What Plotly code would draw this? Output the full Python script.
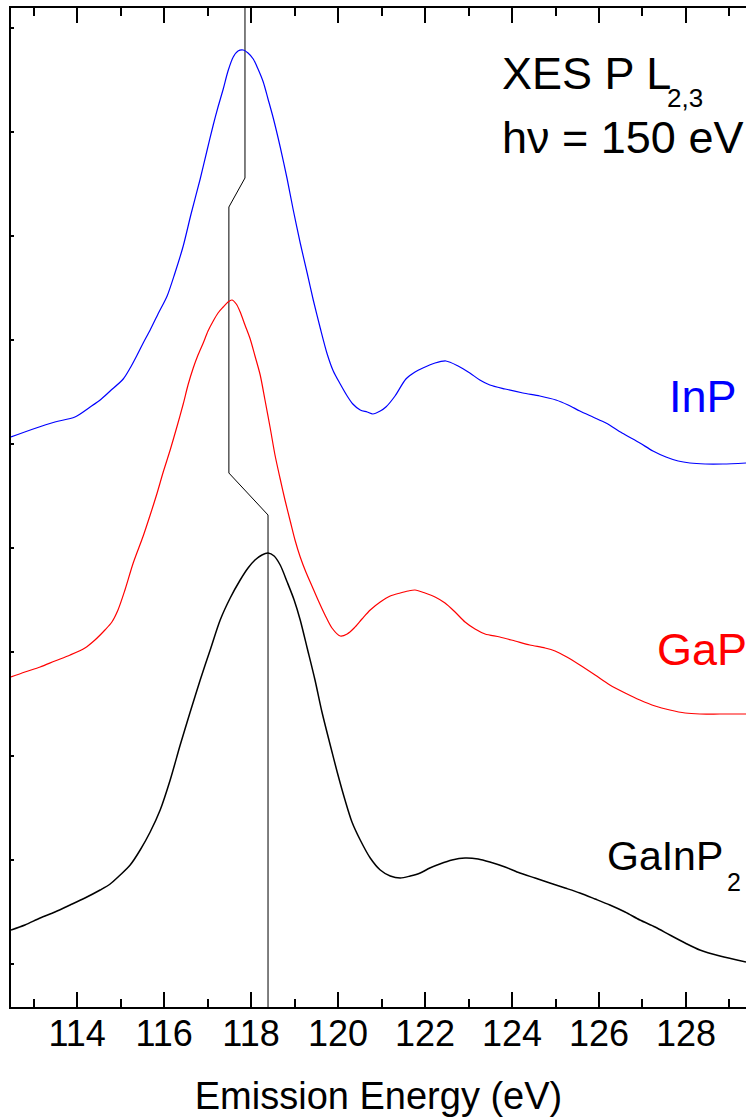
import plotly.graph_objects as go

# P L2,3 X-ray emission spectra (hv = 150 eV), vertically offset for clarity.
# Intensities are in arbitrary units including the offset of each spectrum.
inp_energy = [112.48, 112.99, 113.49, 113.95, 114.30, 114.53, 114.76, 115.06, 115.22, 115.38,
              115.52, 115.68, 115.86, 116.07, 116.25, 116.44, 116.62, 116.83, 116.99, 117.13,
              117.24, 117.36, 117.47, 117.59, 117.70, 117.82, 117.93, 118.05, 118.16, 118.28,
              118.39, 118.51, 118.67, 118.83, 118.97, 119.13, 119.29, 119.43, 119.59, 119.75,
              119.89, 120.05, 120.21, 120.34, 120.51, 120.67, 120.80, 120.97, 121.10, 121.31,
              121.56, 121.77, 121.95, 122.23, 122.48, 122.76, 123.03, 123.26, 123.49, 123.84,
              124.25, 124.64, 125.01, 125.29, 125.56, 125.86, 126.16, 126.53, 126.94, 127.24,
              127.54, 127.82, 128.09, 128.44, 128.85, 129.38]
inp_intensity = [527, 535, 542, 547, 557, 564, 573, 585, 596, 609,
                 621, 634, 650, 668, 691, 718, 750, 785, 814, 839,
                 857, 875, 893, 907, 913, 914, 911, 905, 895, 882,
                 865, 846, 817, 785, 754, 721, 691, 664, 636, 610,
                 593, 580, 568, 560, 554, 552, 550, 553, 557, 568,
                 585, 592, 596, 601, 603, 598, 591, 584, 579, 575,
                 571, 568, 564, 559, 553, 547, 541, 531, 521, 513,
                 507, 503, 501, 500, 500, 501]

gap_energy = [112.48, 112.80, 113.15, 113.49, 113.84, 114.18, 114.41, 114.64, 114.80, 114.94,
              115.10, 115.29, 115.52, 115.68, 115.84, 115.98, 116.14, 116.30, 116.44, 116.55,
              116.67, 116.78, 116.90, 117.01, 117.13, 117.24, 117.36, 117.47, 117.56, 117.66,
              117.75, 117.86, 117.98, 118.09, 118.21, 118.32, 118.44, 118.55, 118.67, 118.78,
              118.90, 119.01, 119.13, 119.26, 119.40, 119.54, 119.70, 119.86, 120.05, 120.21,
              120.37, 120.55, 120.74, 120.97, 121.20, 121.43, 121.61, 121.77, 122.00, 122.23,
              122.46, 122.69, 122.92, 123.15, 123.38, 123.72, 124.07, 124.41, 124.76, 124.99,
              125.26, 125.56, 125.91, 126.25, 126.60, 126.94, 127.29, 127.63, 127.98, 128.32,
              128.78, 129.38]
gap_intensity = [287, 292, 297, 303, 309, 316, 324, 334, 342, 354,
                 374, 401, 428, 449, 471, 492, 514, 538, 560, 579,
                 596, 609, 621, 633, 643, 651, 657, 662, 664, 660,
                 652, 639, 625, 608, 589, 564, 536, 509, 485, 464,
                 443, 424, 407, 392, 378, 364, 349, 336, 328, 330,
                 336, 345, 354, 362, 368, 371, 373, 374, 371, 367,
                 361, 352, 342, 335, 330, 327, 323, 319, 316, 313,
                 307, 299, 289, 279, 271, 264, 258, 254, 251, 250,
                 250, 250]

gainp2_energy = [112.48, 112.80, 113.15, 113.49, 113.84, 114.18, 114.53, 114.76, 114.99, 115.22,
                 115.45, 115.68, 115.91, 116.14, 116.37, 116.60, 116.83, 117.06, 117.29, 117.52,
                 117.75, 117.93, 118.09, 118.25, 118.39, 118.53, 118.67, 118.83, 118.99, 119.13,
                 119.29, 119.47, 119.63, 119.82, 119.98, 120.16, 120.32, 120.51, 120.74, 120.97,
                 121.20, 121.43, 121.66, 121.89, 122.11, 122.34, 122.62, 122.92, 123.22, 123.49,
                 123.84, 124.18, 124.53, 124.87, 125.22, 125.56, 125.91, 126.25, 126.60, 126.94,
                 127.29, 127.63, 127.98, 128.32, 128.78, 129.38]
gainp2_intensity = [34, 39, 46, 52, 59, 66, 74, 80, 89, 99,
                    114, 132, 154, 184, 219, 252, 284, 314, 344, 366,
                    384, 396, 404, 409, 411, 408, 399, 382, 364, 344,
                    316, 284, 252, 219, 192, 164, 142, 124, 106, 94,
                    88, 86, 88, 91, 96, 100, 104, 106, 105, 102,
                    97, 91, 86, 81, 76, 71, 65, 59, 52, 44,
                    37, 29, 21, 14, 8, 2]

# guide line joining the main-peak positions (InP 117.86, GaP 117.49, GaInP2 118.39 eV)
guide_energy = [117.86, 117.86, 117.49, 117.49, 118.39, 118.39]
guide_level = [956, 786, 757, 491, 449, -43]

x_range = [112.48, 129.38]
y_range = [-43, 956]
x_ticks = [114, 116, 118, 120, 122, 124, 126, 128]
y_tick_step = 104

font_family = "Liberation Sans, Arial, sans-serif"

fig = go.Figure()
fig.add_trace(go.Scatter(x=guide_energy, y=guide_level, mode="lines",
                         line=dict(color="black", width=1), hoverinfo="skip"))
fig.add_trace(go.Scatter(x=inp_energy, y=inp_intensity, mode="lines", name="InP",
                         line=dict(color="#0000ff", width=1.2, shape="spline", smoothing=0.8)))
fig.add_trace(go.Scatter(x=gap_energy, y=gap_intensity, mode="lines", name="GaP",
                         line=dict(color="#ff0000", width=1.2, shape="spline", smoothing=0.8)))
fig.add_trace(go.Scatter(x=gainp2_energy, y=gainp2_intensity, mode="lines", name="GaInP2",
                         line=dict(color="black", width=1.5, shape="spline", smoothing=0.8)))

fig.update_layout(
    width=746, height=1117,
    margin=dict(l=11, r=0, t=8, b=110),
    paper_bgcolor="white", plot_bgcolor="white",
    showlegend=False,
    font=dict(family=font_family, color="black"),
    xaxis=dict(
        range=x_range, tickmode="array", tickvals=x_ticks,
        ticks="inside", ticklen=15, tickwidth=2, tickcolor="black",
        minor=dict(ticks="inside", ticklen=8, tickwidth=2, dtick=1, tick0=113, tickcolor="black"),
        showline=True, linewidth=2, linecolor="black", mirror="allticks",
        showgrid=False, zeroline=False, automargin=False,
        tickfont=dict(size=36, family=font_family), ticklabelstandoff=-6,
        title=dict(text="Emission Energy (eV)", font=dict(size=38, family=font_family), standoff=36),
    ),
    yaxis=dict(
        range=y_range, tickmode="linear", tick0=0, dtick=y_tick_step,
        ticks="inside", ticklen=3, tickwidth=2, tickcolor="black",
        showticklabels=False, automargin=False,
        showline=True, linewidth=2, linecolor="black", mirror=False,
        showgrid=False, zeroline=False,
    ),
)

# (x, y, text, size, colour); subscripts sit fully below the baseline as separate labels
annotations = [
    (123.72, 891, "XES P L", 45, "black"),
    (127.52, 866, "2,3", 26, "black"),
    (123.72, 827, "h\u03bd = 150 eV", 45, "black"),
    (127.56, 568, "InP", 45, "#0000ff"),
    (127.29, 315, "GaP", 45, "#ff0000"),
    (126.14, 108, "GaInP", 41, "black"),
    (128.90, 82, "2", 25, "black"),
]
for x, y, text, size, colour in annotations:
    fig.add_annotation(x=x, y=y, xref="x", yref="y", text=text,
                       showarrow=False, xanchor="left", yanchor="middle",
                       font=dict(size=size, color=colour, family=font_family))

fig.write_html("out.html")
